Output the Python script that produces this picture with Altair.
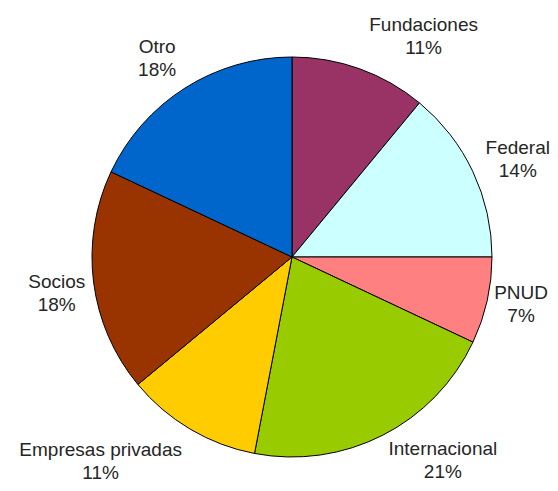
import math
import altair as alt
import pandas as pd

# Data (clockwise from 12 o'clock)
categories = ["Fundaciones", "Federal", "PNUD", "Internacional",
              "Empresas privadas", "Socios", "Otro"]
percent = [11, 14, 7, 21, 11, 18, 18]
colors = ["#993366", "#CCFFFF", "#FF8080", "#99CC00",
          "#FFCC00", "#993300", "#0066CC"]

# Label layout (style): angle nudge in degrees and distance from centre in px
label_nudge = {"Fundaciones": 11, "Federal": 1.8, "PNUD": -0.8, "Internacional": -9.6,
               "Empresas privadas": 12.5, "Socios": -1.5, "Otro": -1.8}
label_radius = {"Fundaciones": 257, "Federal": 246, "PNUD": 234, "Internacional": 253,
                "Empresas privadas": 280, "Socios": 238, "Otro": 240}

df = pd.DataFrame({"cat": categories, "value": percent, "idx": range(len(categories))})
total = sum(percent)
cum = 0
angs, rads, labels = [], [], []
for c, v in zip(categories, percent):
    mid = (cum + v / 2) / total * 360
    cum += v
    angs.append(mid + label_nudge[c])
    rads.append(label_radius[c])
    labels.append(f"{c}\n{round(v / total * 100)}%")
df["ang"] = angs
df["rad"] = rads
df["label"] = labels

CX, CY = 284, 249
FS = 19
LH = 23

pie = alt.Chart(df).mark_arc(stroke="#000000", strokeWidth=1, radius=200).encode(
    theta=alt.Theta("value:Q", stack=True),
    order=alt.Order("idx:Q"),
    color=alt.Color("cat:N", scale=alt.Scale(domain=categories, range=colors), legend=None),
    x=alt.value(CX),
    y=alt.value(CY),
)

text = alt.Chart(df).mark_text(
    font="Liberation Sans", fontSize=FS, color="#262626",
    align="center", baseline="middle", lineBreak="\n", lineHeight=LH, dy=-LH / 2,
).encode(
    theta=alt.Theta("ang:Q", scale=alt.Scale(domain=[0, 360], range=[0, 2 * math.pi])),
    radius=alt.Radius("rad:Q", scale=None),
    text="label:N",
    x=alt.value(CX),
    y=alt.value(CY),
)

chart = alt.layer(pie, text).resolve_scale(theta="independent", radius="independent").properties(
    width=542, height=475, padding=0,
    autosize=alt.AutoSizeParams(type="fit", contains="padding"),
).configure_view(strokeWidth=0)

chart.save("out.html", embed_options={"renderer": "svg", "actions": False})
